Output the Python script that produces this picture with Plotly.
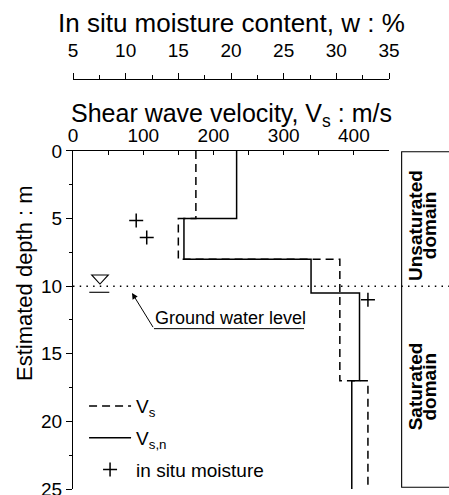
import plotly.graph_objects as go

# Layered shear-wave velocity profiles (layer top, layer bottom, velocity)
vs_tops = [0, 5, 8, 17]
vs_bottoms = [5, 8, 17, 25]
vs_values = [175, 150, 380, 420]

vsn_tops = [0, 5, 8, 10.5, 17]
vsn_bottoms = [5, 8, 10.5, 17, 25]
vsn_values = [233, 158, 339, 408, 397]

# In situ moisture content samples
moist_depth = [5.15, 6.4, 11.0]
moist_w = [11.0, 12.0, 33.0]

gwl_depth = 10.0

vel_ticks = [0, 100, 200, 300, 400]
depth_ticks = [0, 5, 10, 15, 20, 25]
w_ticks = [5, 10, 15, 20, 25, 30, 35]

FONT = "Arial, 'Liberation Sans', sans-serif"


def step_profile(tops, bottoms, values):
    xs, ys = [], []
    for t, b, v in zip(tops, bottoms, values):
        xs += [v, v]
        ys += [t, b]
    return xs, ys


vs_x, vs_y = step_profile(vs_tops, vs_bottoms, vs_values)
vsn_x, vsn_y = step_profile(vsn_tops, vsn_bottoms, vsn_values)

fig = go.Figure()
fig.add_trace(go.Scatter(x=vs_x, y=vs_y, mode="lines", name="V<sub>s</sub>",
                         legendgroup="g1",
                         line=dict(color="black", width=1.5, dash="8px,5px"),
                         xaxis="x", yaxis="y"))
fig.add_trace(go.Scatter(x=vsn_x, y=vsn_y, mode="lines", name="V<sub>s,n</sub>",
                         legendgroup="g2",
                         line=dict(color="black", width=1.5),
                         xaxis="x", yaxis="y"))
fig.add_trace(go.Scatter(x=moist_w, y=moist_depth, mode="markers", name="in situ moisture",
                         legendgroup="g3",
                         marker=dict(symbol="cross-thin", size=10, color="black",
                                     line=dict(color="black", width=1.5)),
                         xaxis="x3", yaxis="y"))

# Plot area spans x 73..389 px and y 70..489 px; data panel uses lower part
DOM_TOP = 0.8067
AX = dict(showgrid=False, zeroline=False, showline=True, linecolor="black",
          linewidth=1.3, tickcolor="black", tickwidth=1.2,
          ticklabeloverflow="allow",
          tickfont=dict(family=FONT, size=19, color="black"))

fig.update_layout(
    template="none",
    width=449, height=495,
    margin=dict(l=73, r=60, t=70, b=6, pad=0),
    paper_bgcolor="white", plot_bgcolor="white",
    font=dict(family=FONT, color="black"),
    showlegend=True,
    legend=dict(x=0.035, y=0.243, xanchor="left", yanchor="top",
                bgcolor="rgba(0,0,0,0)", borderwidth=0,
                font=dict(family=FONT, size=19, color="black"),
                itemwidth=42, tracegroupgap=4),
    xaxis=dict(AX, range=[0, 450], side="top", anchor="y",
               tickvals=vel_ticks, ticks="inside", ticklen=4,
               minor=dict(dtick=50, tick0=0, ticks="inside", ticklen=4,
                          tickcolor="black", tickwidth=1.2)),
    xaxis2=dict(AX, range=[0, 450], side="bottom", anchor="y", overlaying="x",
                showticklabels=False, ticks="inside", ticklen=4, dtick=50, tick0=0),
    xaxis3=dict(AX, range=[5, 35], side="top", anchor="free", position=0.979,
                overlaying="x", tickvals=w_ticks, ticks="outside", ticklen=6,
                ticklabelstandoff=8,
                minor=dict(dtick=2.5, tick0=5, ticks="outside", ticklen=4,
                           tickcolor="black", tickwidth=1.2)),
    yaxis=dict(AX, range=[25, 0], domain=[0, DOM_TOP], anchor="x",
               tickvals=depth_ticks, ticks="outside", ticklen=6,
               minor=dict(dtick=2.5, tick0=0, ticks="outside", ticklen=3,
                          tickcolor="black", tickwidth=1.2)),
    yaxis2=dict(AX, range=[25, 0], side="right", anchor="x", overlaying="y",
                showticklabels=False, tickvals=depth_ticks, ticks="inside", ticklen=6,
                minor=dict(dtick=2.5, tick0=0, ticks="inside", ticklen=4,
                           tickcolor="black", tickwidth=1.2)),
)

# Axis titles
fig.add_annotation(text="In situ moisture content, w : %", xref="paper", yref="paper",
                   x=0.5, y=1.113, showarrow=False, xanchor="center", yanchor="middle",
                   font=dict(family=FONT, size=26, color="black"))
fig.add_annotation(text="Shear wave velocity, V<sub>s</sub> : m/s", xref="paper", yref="paper",
                   x=0.5, y=0.893, showarrow=False, xanchor="center", yanchor="middle",
                   font=dict(family=FONT, size=25, color="black"))
fig.add_annotation(text="Estimated depth : m", xref="paper", yref="paper",
                   x=-0.155, y=0.4916, showarrow=False, textangle=-90,
                   xanchor="center", yanchor="middle",
                   font=dict(family=FONT, size=22, color="black"))

# Ground water level: dotted line, water table symbol and leader
fig.add_shape(type="line", xref="paper", yref="y", x0=0.0, x1=1.2,
              y0=gwl_depth, y1=gwl_depth,
              line=dict(color="black", width=1.5, dash="1.5px,5.2px"))
fig.add_shape(type="path", xref="x", yref="y",
              path=f"M26.6,{gwl_depth - 0.83} L50.3,{gwl_depth - 0.83} L38.4,{gwl_depth - 0.16} Z",
              line=dict(color="black", width=1.1), fillcolor="rgba(0,0,0,0)")
fig.add_shape(type="line", xref="x", yref="y", x0=23.2, x1=51.7,
              y0=gwl_depth + 0.45, y1=gwl_depth + 0.45,
              line=dict(color="black", width=1.1))
fig.add_annotation(x=84, y=gwl_depth + 0.5, ax=115.3, ay=13.14, xref="x", yref="y",
                   axref="x", ayref="y", text="", showarrow=True,
                   arrowhead=2, arrowsize=1.2, arrowwidth=1, arrowcolor="black", standoff=0)
fig.add_shape(type="line", xref="x", yref="y", x0=115.3, x1=329, y0=13.14, y1=13.14,
              line=dict(color="black", width=1))
fig.add_annotation(text="Ground water level", x=223.6, y=12.35, xref="x", yref="y",
                   showarrow=False, xanchor="center", yanchor="middle",
                   font=dict(family=FONT, size=18, color="black"))

# Unsaturated / saturated domains box on the right
fig.add_shape(type="rect", xref="paper", yref="paper", x0=1.040, x1=1.2,
              y0=0.004, y1=0.805, line=dict(color="black", width=1.1),
              fillcolor="rgba(0,0,0,0)")
for label, yc in [("Unsaturated", 0.629), ("Saturated", 0.244)]:
    fig.add_annotation(text=f"<b>{label}</b>", xref="paper", yref="paper",
                       x=1.084, y=yc, showarrow=False, textangle=-90,
                       xanchor="center", yanchor="middle",
                       font=dict(family=FONT, size=19, color="black"))
    fig.add_annotation(text="<b>domain</b>", xref="paper", yref="paper",
                       x=1.129, y=yc, showarrow=False, textangle=-90,
                       xanchor="center", yanchor="middle",
                       font=dict(family=FONT, size=19, color="black"))

fig.write_html("out.html")
